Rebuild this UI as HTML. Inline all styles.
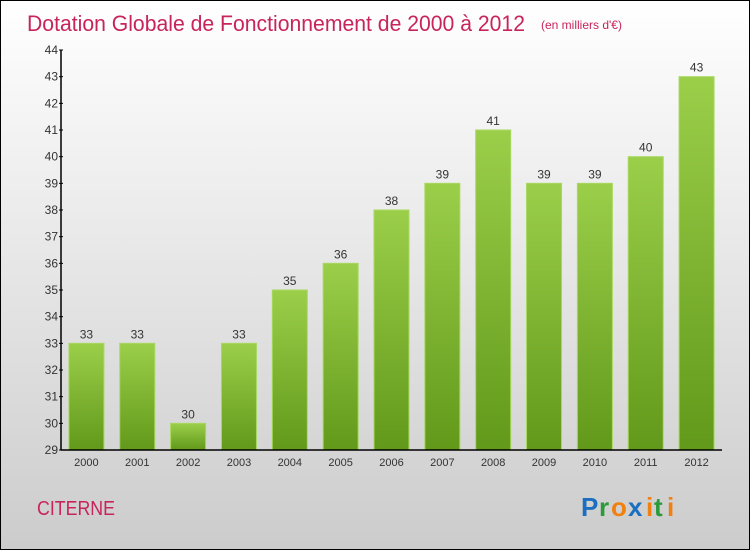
<!DOCTYPE html>
<html><head><meta charset="utf-8"><style>
body{margin:0}
#c{width:748px;height:548px;border:1px solid #000;background:linear-gradient(#fff,#ccc);position:relative;font-family:"Liberation Sans",sans-serif;overflow:hidden}
</style></head><body>
<div id="c">
<svg width="748" height="548" id="svg">
<defs><linearGradient id="g" x1="0" y1="0" x2="0" y2="1"><stop offset="0" stop-color="#9bcf4a"/><stop offset="1" stop-color="#62991a"/></linearGradient></defs>
<text x="26" y="30" font-size="22" fill="#c8245c" textLength="498" lengthAdjust="spacingAndGlyphs">Dotation Globale de Fonctionnement de 2000 à 2012</text>
<text x="540" y="28" font-size="12" fill="#c8245c">(en milliers d'€)</text>
<text x="36" y="514" font-size="20" fill="#c8245c" textLength="78" lengthAdjust="spacingAndGlyphs">CITERNE</text>
<g font-size="26" font-weight="bold"><text x="580" y="515" fill="#1a6fc0">P</text><text x="598" y="515" fill="#2a9a3a">r</text><text x="610" y="515" fill="#f08010">o</text><text x="627" y="515" fill="#1a6fc0">x</text><text x="645" y="515" fill="#f08010">i</text><text x="653" y="515" fill="#2a9a3a">t</text><text x="666" y="515" fill="#f08010">i</text></g>
<g id="plot"></g>
</svg></div>
<script>
const categories=["2000","2001","2002","2003","2004","2005","2006","2007","2008","2009","2010","2011","2012"];
const values=[33,33,30,33,35,36,38,39,41,39,39,40,43];
const yTicks=[29,30,31,32,33,34,35,36,37,38,39,40,41,42,43,44];
const NS="http://www.w3.org/2000/svg";
const x0=60,x1=721,yB=449,yT=49,vMin=29,vMax=44;
const band=(x1-x0)/categories.length;
const y=v=>yB-(v-vMin)/(vMax-vMin)*(yB-yT);
const xc=i=>x0+band*(i+0.5);
const p=document.getElementById('plot');
function mk(t,a){const e=document.createElementNS(NS,t);for(const k in a)e.setAttribute(k,a[k]);p.appendChild(e);return e;}
values.forEach((v,i)=>{
 const r=mk('rect',{x:xc(i)-17.5,y:y(v),width:35,height:yB-y(v),fill:'url(#g)',stroke:'#a8d860','stroke-width':1});
 
 
 const t=mk('text',{x:xc(i),y:y(v)-5,'font-size':12,fill:'#333','text-anchor':'middle'});t.textContent=v;
 
 
 const c=mk('text',{x:xc(i),y:yB+16,'font-size':11,fill:'#333','text-anchor':'middle'});c.textContent=categories[i];
 
 
});
yTicks.forEach(v=>{
 mk('line',{x1:x0-2,x2:x0+2,y1:y(v),y2:y(v),stroke:'#000'});
 const t=mk('text',{x:x0-3,y:y(v)+4,'font-size':12,fill:'#333','text-anchor':'end'});t.textContent=v;
 
 
});
const ya=mk('line',{x1:x0,x2:x0,y1:yT,y2:yB,stroke:'#000','stroke-width':1.5});


const xa=mk('line',{x1:x0,x2:x1,y1:yB,y2:yB,stroke:'#000','stroke-width':1.5});


</script>
</body></html>
